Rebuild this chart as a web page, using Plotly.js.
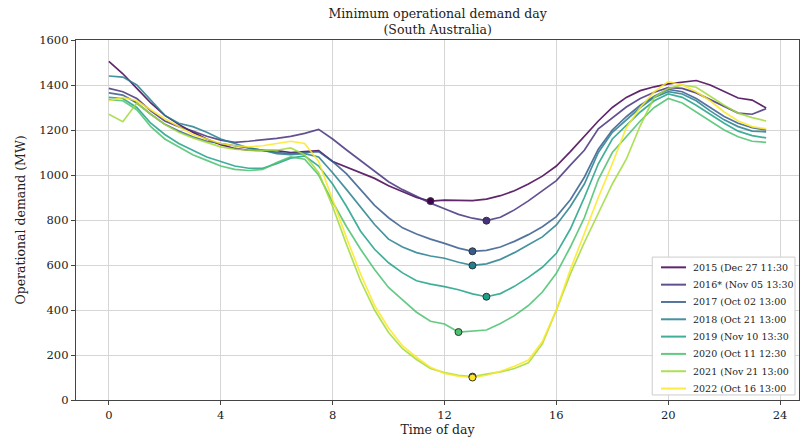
<!DOCTYPE html>
<html>
<head>
<meta charset="utf-8">
<script src="https://cdn.plot.ly/plotly-3.0.1.min.js"></script>
<style>html,body{margin:0;padding:0;background:#fff;}#chart{width:803px;height:442px;}</style>
</head>
<body>
<div id="chart"></div>
<script>
// Half-hourly time of day (hours)
const hours = [0,0.5,1,1.5,2,2.5,3,3.5,4,4.5,5,5.5,6,6.5,7,7.5,8,8.5,9,9.5,10,10.5,11,11.5,12,12.5,13,13.5,14,14.5,15,15.5,16,16.5,17,17.5,18,18.5,19,19.5,20,20.5,21,21.5,22,22.5,23,23.5];

const seriesNames = ["2015 (Dec 27 11:30","2016* (Nov 05 13:30","2017 (Oct 02 13:00","2018 (Oct 21 13:00","2019 (Nov 10 13:30","2020 (Oct 11 12:30","2021 (Nov 21 13:00","2022 (Oct 16 13:00"];
const seriesColors = ["#440154","#46327e","#365c8d","#277f8e","#1fa187","#4ac16d","#a0da39","#fde725"];

const d2015 = [1505,1450,1385,1320,1265,1225,1190,1160,1135,1118,1110,1110,1108,1100,1105,1108,1060,1035,1012,985,952,925,900,884,888,887,886,893,908,930,960,995,1040,1104,1170,1240,1300,1345,1375,1392,1405,1413,1420,1400,1370,1342,1333,1298];
const d2016 = [1385,1370,1340,1285,1240,1215,1195,1172,1155,1145,1150,1155,1163,1172,1185,1203,1160,1111,1065,1020,970,935,905,875,850,825,808,797,812,845,885,930,975,1044,1110,1205,1255,1302,1340,1368,1388,1385,1365,1335,1305,1275,1270,1295];
const d2017 = [1365,1355,1320,1270,1225,1195,1170,1150,1140,1130,1120,1110,1100,1095,1100,1104,1060,1005,935,865,810,765,738,715,696,675,661,665,680,705,735,770,815,890,990,1115,1200,1259,1310,1350,1380,1370,1340,1300,1260,1230,1210,1200];
const d2018 = [1440,1435,1400,1330,1265,1230,1215,1190,1160,1140,1120,1110,1095,1090,1095,1080,1010,935,860,780,715,680,655,640,630,612,598,605,625,655,690,725,778,860,960,1100,1190,1245,1300,1345,1370,1360,1330,1285,1245,1215,1195,1192];
const d2019 = [1345,1340,1300,1230,1180,1140,1110,1080,1060,1040,1030,1030,1050,1075,1085,1040,960,860,750,670,610,565,530,515,504,490,472,459,473,505,545,590,652,760,900,1050,1160,1220,1280,1330,1360,1345,1310,1270,1230,1195,1175,1165];
const d2020 = [1335,1330,1290,1215,1160,1125,1090,1065,1040,1025,1020,1025,1055,1080,1070,1000,880,770,670,580,500,445,390,350,338,302,308,311,340,375,420,480,563,680,810,980,1100,1170,1240,1300,1340,1320,1280,1240,1200,1170,1150,1145];
const d2021 = [1270,1237,1320,1270,1225,1190,1165,1145,1125,1115,1110,1110,1110,1120,1090,1010,860,690,530,400,300,228,180,140,122,110,104,115,125,140,165,250,400,560,700,830,960,1070,1220,1345,1385,1400,1390,1350,1310,1275,1255,1240];
const d2022 = [1330,1345,1330,1290,1250,1215,1180,1160,1140,1130,1125,1130,1140,1150,1140,1060,890,720,560,420,320,240,190,145,118,106,100,110,128,150,178,260,400,580,740,900,1050,1210,1300,1370,1415,1400,1370,1330,1280,1240,1215,1205];

const allData = [d2015,d2016,d2017,d2018,d2019,d2020,d2021,d2022];

const xTicks = [0,4,8,12,16,20,24];
const yTicks = [0,200,400,600,800,1000,1200,1400,1600];

const FONT = "DejaVu Serif, Liberation Serif, serif";
const traces = [];
allData.forEach((vals, i) => {
  traces.push({
    type: 'scatter', mode: 'lines', x: hours, y: vals, name: seriesNames[i],
    line: {color: seriesColors[i], width: 1.7}, opacity: 0.85, showlegend: false
  });
});
allData.forEach((vals, i) => {
  let k = 0;
  vals.forEach((v, j) => { if (v < vals[k]) k = j; });
  traces.push({
    type: 'scatter', mode: 'markers', x: [hours[k]], y: [vals[k]], showlegend: false,
    hoverinfo: 'skip',
    marker: {color: seriesColors[i], size: 7, line: {color: '#333', width: 1}}
  });
});

// Compact legend box (paper coordinates), built from the series names and colours
const shapes = [];
const annotations = [];
const legX0 = 0.797, legX1 = 0.9945, legY0 = 0.014, legY1 = 0.397;
shapes.push({type: 'rect', xref: 'paper', yref: 'paper', x0: legX0, x1: legX1, y0: legY0, y1: legY1,
             line: {color: '#cccccc', width: 1}, fillcolor: 'rgba(255,255,255,0.92)', layer: 'above'});
seriesNames.forEach((nm, i) => {
  const yy = legY1 - 0.0285 - i * 0.0481;
  shapes.push({type: 'line', xref: 'paper', yref: 'paper', x0: 0.8091, x1: 0.8437, y0: yy, y1: yy,
               line: {color: seriesColors[i], width: 2}, opacity: 0.85, layer: 'above'});
  annotations.push({xref: 'paper', yref: 'paper', x: 0.8500, y: yy, xanchor: 'left', yanchor: 'middle',
                    text: nm, showarrow: false, font: {family: FONT, size: 9.5, color: '#222'}});
});

const layout = {
  width: 803, height: 442,
  margin: {l: 76, r: 4, t: 40, b: 42},
  paper_bgcolor: '#fff', plot_bgcolor: '#fff',
  font: {family: FONT, size: 12, color: '#222'},
  title: {text: 'Minimum operational demand day<br>(South Australia)', x: 0.545, xref: 'container', xanchor: 'center',
          y: 0.96, yref: 'container', yanchor: 'top',
          font: {family: FONT, size: 12.5, color: '#222'}},
  xaxis: {
    range: [-1.175, 24.675], tickvals: xTicks, ticktext: xTicks.map(String),
    showgrid: true, gridcolor: '#d6d6d6', gridwidth: 1, zeroline: false,
    showline: true, linecolor: '#444', linewidth: 1.2, mirror: true,
    ticks: 'outside', ticklen: 4, tickcolor: '#444',
    tickfont: {family: FONT, size: 11.5, color: '#222'},
    title: {text: 'Time of day', standoff: 4, font: {family: FONT, size: 12.5, color: '#222'}}
  },
  yaxis: {
    range: [0, 1600], tickvals: yTicks, ticktext: yTicks.map(String),
    showgrid: true, gridcolor: '#d6d6d6', gridwidth: 1, zeroline: false,
    showline: true, linecolor: '#444', linewidth: 1.2, mirror: true,
    ticks: 'outside', ticklen: 4, tickcolor: '#444',
    tickfont: {family: FONT, size: 11.5, color: '#222'},
    title: {text: 'Operational demand (MW)', standoff: 10, font: {family: FONT, size: 12.5, color: '#222'}}
  },
  shapes: shapes,
  annotations: annotations,
  showlegend: false
};

Plotly.newPlot('chart', traces, layout, {displayModeBar: false, staticPlot: true});
</script>
</body>
</html>
